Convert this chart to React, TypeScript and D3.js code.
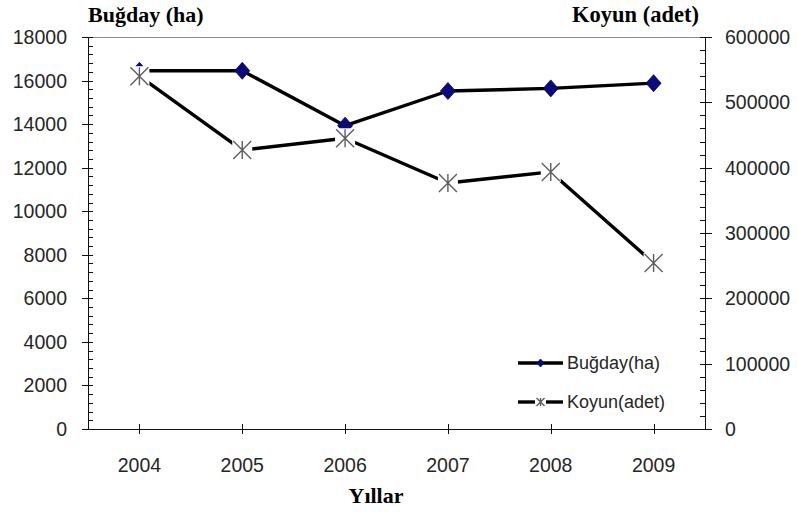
import React from "react";
import * as d3 from "d3";

const years = ["2004", "2005", "2006", "2007", "2008", "2009"];
const bugday = [16450, 16450, 13930, 15520, 15640, 15880];
const koyun = [540000, 427000, 445000, 376500, 393500, 254000];
const leftTicks = [0, 2000, 4000, 6000, 8000, 10000, 12000, 14000, 16000, 18000];
const rightTicks = [0, 100000, 200000, 300000, 400000, 500000, 600000];

const W = 797, H = 513;
const L = 88, R = 705, T = 37, B = 429;

export default function App() {
  const x = d3.scalePoint<string>().domain(years).range([L, R]).padding(0.5);
  const yL = d3.scaleLinear().domain([0, 18000]).range([B, T]);
  const yR = d3.scaleLinear().domain([0, 600000]).range([B, T]);
  const leftMinor = d3.range(0, 18001, 400);
  const rightMinor = d3.range(0, 600001, 20000);
  const lineL = d3.line<number>().x((_, i) => x(years[i])!).y((d) => yL(d));
  const lineR = d3.line<number>().x((_, i) => x(years[i])!).y((d) => yR(d));
  const font = "'Liberation Sans', Arial, sans-serif";
  const serif = "'Liberation Serif', 'Times New Roman', serif";
  const star = (cx: number, cy: number, s: number, key: string, bg = true) => (
    <g key={key}>
      {bg && <rect x={cx - s - 1} y={cy - s - 1} width={2 * s + 2} height={2 * s + 2} fill="#fff" />}
      <path
        d={`M${cx - s},${cy - s}L${cx + s},${cy + s}M${cx - s},${cy + s}L${cx + s},${cy - s}M${cx},${cy - s}L${cx},${cy + s}`}
        stroke="#5e5e5e"
        strokeWidth={1.4}
        fill="none"
      />
    </g>
  );
  const diamond = (cx: number, cy: number, w: number, h: number, key: string) => (
    <path key={key} d={`M${cx},${cy - h}L${cx + w},${cy}L${cx},${cy + h}L${cx - w},${cy}Z`} fill="#0a0a78" stroke="#06064a" strokeWidth={0.8} />
  );
  const tc = "#262626";
  return (
    <svg width={W} height={H} style={{ position: "absolute", left: 0, top: 0, background: "#fff" }}>
      <rect width={W} height={H} fill="#fff" />
      {/* top frame */}
      <line x1={L} x2={R} y1={T + 0.5} y2={T + 0.5} stroke="#8a8a8a" strokeWidth={1} />
      {/* left axis */}
      <line x1={L + 0.5} x2={L + 0.5} y1={T} y2={B} stroke="#111" strokeWidth={1} />
      {leftMinor.map((v) => (
        <line key={"lm" + v} x1={L} x2={L + 5} y1={Math.round(yL(v)) + 0.5} y2={Math.round(yL(v)) + 0.5} stroke="#111" />
      ))}
      {leftTicks.map((v) => (
        <g key={"lt" + v}>
          <line x1={L - 6} x2={L + 5} y1={Math.round(yL(v)) + 0.5} y2={Math.round(yL(v)) + 0.5} stroke="#111" />
          <text x={67} y={yL(v)} dy="0.36em" textAnchor="end" fontFamily={font} fontSize={19.5} fill={tc}>
            {v}
          </text>
        </g>
      ))}
      {/* right axis */}
      <line x1={R + 0.5} x2={R + 0.5} y1={T} y2={B} stroke="#111" strokeWidth={1} />
      {rightMinor.map((v) => (
        <line key={"rm" + v} x1={R - 5} x2={R + 1} y1={Math.round(yR(v)) + 0.5} y2={Math.round(yR(v)) + 0.5} stroke="#111" />
      ))}
      {rightTicks.map((v) => (
        <g key={"rt" + v}>
          <line x1={R - 5} x2={R + 7} y1={Math.round(yR(v)) + 0.5} y2={Math.round(yR(v)) + 0.5} stroke="#111" />
          <text x={725} y={yR(v)} dy="0.36em" textAnchor="start" fontFamily={font} fontSize={19.5} fill={tc}>
            {v}
          </text>
        </g>
      ))}
      {/* bottom axis */}
      <line x1={L - 6} x2={R + 7} y1={B + 0.5} y2={B + 0.5} stroke="#111" strokeWidth={1} />
      {years.map((yr) => (
        <g key={"x" + yr}>
          <line x1={Math.round(x(yr)!) + 0.5} x2={Math.round(x(yr)!) + 0.5} y1={B - 5} y2={B + 5} stroke="#111" />
          <text x={x(yr)} y={472} textAnchor="middle" fontFamily={font} fontSize={19.5} fill={tc}>
            {yr}
          </text>
        </g>
      ))}
      {/* series */}
      <path d={lineL(bugday)!} fill="none" stroke="#000" strokeWidth={3.4} strokeLinejoin="round" />
      {bugday.map((v, i) => diamond(x(years[i])!, yL(v), 7.5, 8.5, "d" + i))}
      <path d={lineR(koyun)!} fill="none" stroke="#000" strokeWidth={3.4} strokeLinejoin="round" />
      {koyun.map((v, i) => star(x(years[i])!, yR(v), 9, "s" + i))}
      {/* titles */}
      <text x={88} y={22} fontFamily={serif} fontWeight="bold" fontSize={22} fill="#000">
        Buğday (ha)
      </text>
      <text x={699} y={22} textAnchor="end" fontFamily={serif} fontWeight="bold" fontSize={22.5} fill="#000">
        Koyun (adet)
      </text>
      <text x={376} y={503} textAnchor="middle" fontFamily={serif} fontWeight="bold" fontSize={22} fill="#000">
        Yıllar
      </text>
      {/* legend */}
      <line x1={518} x2={563} y1={363} y2={363} stroke="#000" strokeWidth={3.4} />
      {diamond(540.5, 363, 3.5, 4, "ld")}
      <text x={567} y={363} dy="0.36em" fontFamily={font} fontSize={18} fill={tc}>
        Buğday(ha)
      </text>
      <line x1={518} x2={535} y1={402} y2={402} stroke="#000" strokeWidth={3.4} />
      <line x1={546} x2={563} y1={402} y2={402} stroke="#000" strokeWidth={3.4} />
      {star(540.5, 402, 4, "ls", false)}
      <text x={567} y={402} dy="0.36em" fontFamily={font} fontSize={18} fill={tc}>
        Koyun(adet)
      </text>
    </svg>
  );
}
